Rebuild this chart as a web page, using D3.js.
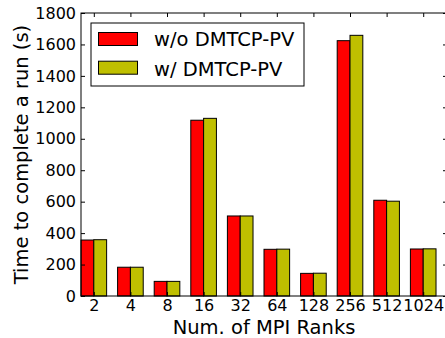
<!DOCTYPE html>
<html>
<head>
<meta charset="utf-8">
<script src="https://d3js.org/d3.v7.min.js"></script>
<style>
  body { margin: 0; background: #fff; }
  svg { display: block; font-family: "DejaVu Sans", sans-serif; }
</style>
</head>
<body>
<svg id="chart" width="445" height="338"></svg>
<script>
// MPI rank counts on the x axis
var ranks = ["2", "4", "8", "16", "32", "64", "128", "256", "512", "1024"];
// run time in seconds
var withoutPV = [356, 183, 93, 1118, 509, 297, 144, 1624, 609, 299];
var withPV = [358, 183, 93, 1130, 509, 298, 145, 1658, 603, 300];
var yTicks = [0, 200, 400, 600, 800, 1000, 1200, 1400, 1600, 1800];
var seriesNames = ["w/o DMTCP-PV", "w/ DMTCP-PV"];
var seriesColors = ["#ff0000", "#bfbf00"];

var svg = d3.select("#chart");
// plot box (note: "top" is taken by window.top)
var plotL = 81, plotR = 447, plotT = 13, plotB = 296;
var barW = 0.35;

var x = d3.scaleLinear().domain([0, ranks.length]).range([plotL, plotR]);
var y = d3.scaleLinear().domain([0, 1800]).range([plotB, plotT]);

var series = [withoutPV, withPV];
series.forEach(function (vals, s) {
  svg.append("g")
    .selectAll("rect")
    .data(vals)
    .enter().append("rect")
    .attr("x", function (d, i) { return x(i + s * barW); })
    .attr("y", function (d) { return y(d); })
    .attr("width", x(barW) - x(0))
    .attr("height", function (d) { return y(0) - y(d); })
    .attr("fill", seriesColors[s])
    .attr("stroke", "#000")
    .attr("stroke-width", 1);
});

// frame
svg.append("rect")
  .attr("x", plotL).attr("y", plotT)
  .attr("width", plotR - plotL).attr("height", plotB - plotT)
  .attr("fill", "none").attr("stroke", "#000").attr("stroke-width", 1);

// y axis (ticks inward, both sides)
var yAxis = svg.append("g")
  .attr("transform", "translate(" + plotL + ",0)")
  .call(d3.axisLeft(y).tickValues(yTicks).tickSize(-4).tickPadding(5)
    .tickFormat(d3.format("d")));
yAxis.select(".domain").remove();
yAxis.selectAll("text").attr("font-size", "16px").attr("fill", "#000")
  .attr("font-family", "DejaVu Sans");

var yAxisR = svg.append("g")
  .attr("transform", "translate(" + plotR + ",0)")
  .call(d3.axisRight(y).tickValues(yTicks).tickSize(-4).tickFormat(""));
yAxisR.select(".domain").remove();

// x axis
var xTickPos = ranks.map(function (r, i) { return i + barW; });
var xAxis = svg.append("g")
  .attr("transform", "translate(0," + plotB + ")")
  .call(d3.axisBottom(x).tickValues(xTickPos).tickSize(-4).tickPadding(4)
    .tickFormat(function (d, i) { return ranks[i]; }));
xAxis.select(".domain").remove();
xAxis.selectAll("text").attr("font-size", "16px").attr("fill", "#000")
  .attr("font-family", "DejaVu Sans");

var xAxisT = svg.append("g")
  .attr("transform", "translate(0," + plotT + ")")
  .call(d3.axisTop(x).tickValues(xTickPos).tickSize(-4).tickFormat(""));
xAxisT.select(".domain").remove();

// axis titles
svg.append("text")
  .attr("x", (plotL + plotR) / 2).attr("y", 334)
  .attr("text-anchor", "middle").attr("font-size", "19.5px")
  .text("Num. of MPI Ranks");

svg.append("text")
  .attr("transform", "translate(28," + (plotT + plotB) / 2 + ") rotate(-90)")
  .attr("text-anchor", "middle").attr("font-size", "19.5px")
  .text("Time to complete a run (s)");

// legend
var lg = svg.append("g");
lg.append("rect")
  .attr("x", 91).attr("y", 23).attr("width", 213).attr("height", 63)
  .attr("fill", "#fff").attr("stroke", "#000").attr("stroke-width", 1);
seriesNames.forEach(function (name, s) {
  lg.append("rect")
    .attr("x", 98.5).attr("y", 32.5 + s * 28.7)
    .attr("width", 39).attr("height", 13)
    .attr("fill", seriesColors[s]).attr("stroke", "#000").attr("stroke-width", 1);
  lg.append("text")
    .attr("x", 154).attr("y", 46 + s * 30)
    .attr("font-size", "19.5px")
    .text(name);
});
</script>
</body>
</html>
